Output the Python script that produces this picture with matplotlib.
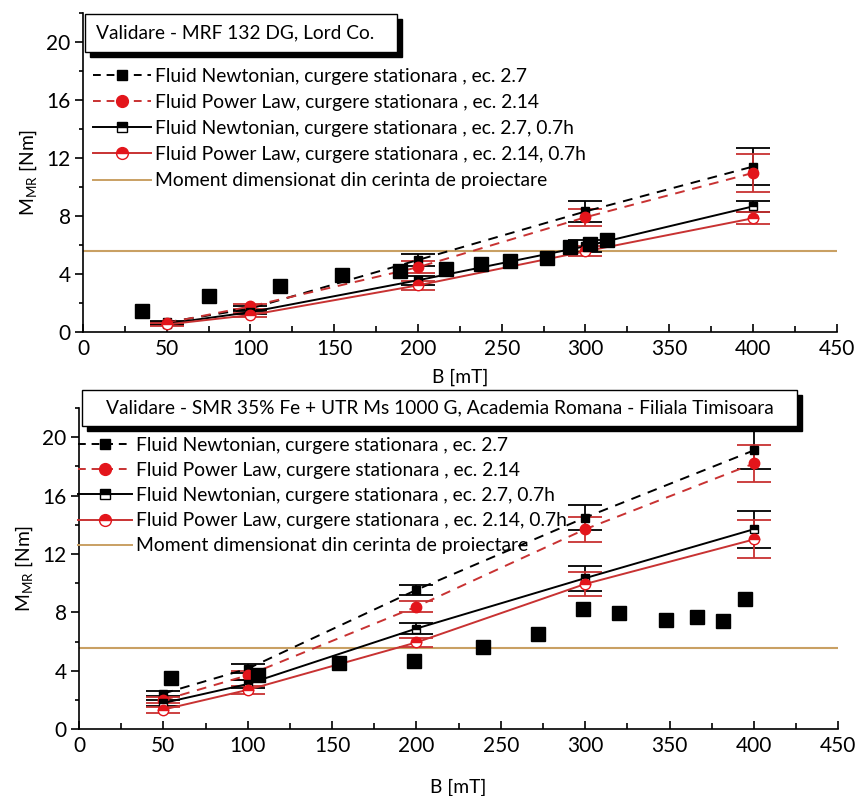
import matplotlib
matplotlib.use('Agg')
import matplotlib.pyplot as plt
from matplotlib.lines import Line2D
from matplotlib.patches import Rectangle
from matplotlib.ticker import MultipleLocator

plt.rcParams['font.family'] = ['Lato', 'DejaVu Sans']
plt.rcParams['mathtext.fontset'] = 'custom'
plt.rcParams['mathtext.rm'] = 'Lato'

# ---------------- data ----------------
B_model = [50, 100, 200, 300, 400]
moment_required = 5.6

labels = [
    "Fluid Newtonian, curgere stationara , ec. 2.7",
    "Fluid Power Law, curgere stationara , ec. 2.14",
    "Fluid Newtonian, curgere stationara , ec. 2.7, 0.7h",
    "Fluid Power Law, curgere stationara , ec. 2.14, 0.7h",
    "Moment dimensionat din cerinta de proiectare",
]

# top panel
top_title = "Validare - MRF 132 DG, Lord Co."
top_newt = [0.65, 1.6, 4.95, 8.3, 11.4]
top_newt_err = [0.1, 0.15, 0.4, 0.7, 1.3]
top_pow = [0.6, 1.75, 4.45, 7.9, 10.96]
top_pow_err = [0.1, 0.15, 0.4, 0.6, 1.3]
top_newt07 = [0.55, 1.35, 3.55, 5.9, 8.65]
top_newt07_err = [0.1, 0.15, 0.3, 0.4, 0.4]
top_pow07 = [0.5, 1.15, 3.2, 5.55, 7.83]
top_pow07_err = [0.1, 0.15, 0.3, 0.35, 0.4]
top_exp_B = [35, 75.5, 117.7, 154.6, 189.5, 217, 237.7, 254.8, 277.2, 291, 303, 313]
top_exp_M = [1.45, 2.49, 3.18, 3.88, 4.22, 4.32, 4.66, 4.91, 5.12, 5.88, 6.05, 6.35]

# bottom panel
bot_title = "Validare - SMR 35% Fe + UTR Ms 1000 G, Academia Romana - Filiala Timisoara"
bot_newt = [2.45, 4.15, 9.55, 14.5, 19.1]
bot_newt_err = [0.2, 0.3, 0.35, 0.85, 1.3]
bot_pow = [2.0, 3.7, 8.4, 13.7, 18.2]
bot_pow_err = [0.2, 0.3, 0.4, 0.85, 1.3]
bot_newt07 = [1.8, 3.1, 6.9, 10.35, 13.7]
bot_newt07_err = [0.2, 0.25, 0.35, 0.85, 1.28]
bot_pow07 = [1.35, 2.7, 5.95, 9.95, 13.0]
bot_pow07_err = [0.2, 0.25, 0.3, 0.85, 1.3]
bot_exp_B = [54.3, 106.3, 154.3, 198.8, 239.3, 272.3, 298.6, 319.8, 348, 366.5, 381.5, 394.7]
bot_exp_M = [3.53, 3.72, 4.52, 4.68, 5.66, 6.53, 8.22, 7.94, 7.49, 7.71, 7.44, 8.95]

# ---------------- style ----------------
BLACK = 'black'
RED = '#e3151b'
RED_LINE = '#c83232'
GOLD = '#c9a063'
FS = 13.9
FS_TITLE = 13.8
FS_TICK = 15
W, H = 856, 796

fig = plt.figure(figsize=(W / 100, H / 100), dpi=100)


def px_box(x0, y0, x1, y1):
    return [x0 / W, 1 - y1 / H, (x1 - x0) / W, (y1 - y0) / H]


def draw_panel(ax, newt, newt_err, pow_, pow_err, newt07, newt07_err, pow07, pow07_err,
               exp_B, exp_M, xlabelpad):
    ax.axhline(moment_required, color=GOLD, lw=1.5, zorder=1)
    common = dict(capsize=12, elinewidth=1.3, capthick=1.3, lw=1.4)
    ax.errorbar(B_model, newt, yerr=newt_err, fmt='s', color=BLACK, ls=(0, (5, 4)),
                ms=6, zorder=3, **common)
    ax.errorbar(B_model, pow_, yerr=pow_err, fmt='o', color=RED_LINE, ls=(0, (5, 4)),
                ms=7.5, mfc=RED, mec=RED, ecolor=RED_LINE, zorder=3, **common)
    ax.errorbar(B_model, newt07, yerr=newt07_err, fmt='s', color=BLACK, ls='-',
                ms=6, fillstyle='top', mfc=BLACK, mfcalt='white', mec=BLACK, zorder=3, **common)
    ax.errorbar(B_model, pow07, yerr=pow07_err, fmt='o', color=RED_LINE, ls='-',
                ms=7.5, fillstyle='top', mfc=RED, mfcalt='white', mec=RED, ecolor=RED_LINE,
                zorder=3, **common)
    ax.plot(exp_B, exp_M, 's', color=BLACK, ms=10, zorder=4)

    ax.set_xlim(0, 450)
    ax.set_ylim(0, 22)
    ax.xaxis.set_major_locator(MultipleLocator(50))
    ax.xaxis.set_minor_locator(MultipleLocator(25))
    ax.yaxis.set_minor_locator(MultipleLocator(2))
    ax.set_yticks([0, 4, 8, 12, 16, 20])
    ax.tick_params(axis='x', which='both', direction='in', labelsize=FS_TICK, width=1.2)
    ax.tick_params(axis='x', which='major', length=6, pad=5)
    ax.tick_params(axis='x', which='minor', length=4)
    ax.tick_params(axis='y', which='both', direction='out', labelsize=FS_TICK, width=1.2)
    ax.tick_params(axis='y', which='major', length=6, pad=3)
    ax.tick_params(axis='y', which='minor', length=3)
    for s in ['top', 'right']:
        ax.spines[s].set_visible(False)
    for s in ['left', 'bottom']:
        ax.spines[s].set_linewidth(1.2)
    ax.set_xlabel('B [mT]', fontsize=FS, labelpad=xlabelpad)
    ax.set_ylabel(r'M$_{\mathregular{MR}}$ [Nm]', fontsize=FS, labelpad=5)


def legend_handles():
    return [
        Line2D([], [], color=BLACK, ls=(0, (4, 3)), lw=1.4, marker='s', ms=7),
        Line2D([], [], color=RED_LINE, ls=(0, (4, 3)), lw=1.4, marker='o', ms=8.5,
               mfc=RED, mec=RED),
        Line2D([], [], color=BLACK, ls='-', lw=1.4, marker='s', ms=7, fillstyle='top',
               mfc=BLACK, markerfacecoloralt='white', mec=BLACK),
        Line2D([], [], color=RED_LINE, ls='-', lw=1.4, marker='o', ms=8.5, fillstyle='top',
               mfc=RED, markerfacecoloralt='white', mec=RED),
        Line2D([], [], color=GOLD, ls='-', lw=1.4),
    ]


def title_box(x0, y0, x1, y1, text, text_x):
    off = 5
    fig.add_artist(Rectangle(((x0 + off) / W, 1 - (y1 + off) / H), (x1 - x0) / W, (y1 - y0) / H,
                             transform=fig.transFigure, facecolor='black', edgecolor='black',
                             zorder=10))
    fig.add_artist(Rectangle((x0 / W, 1 - y1 / H), (x1 - x0) / W, (y1 - y0) / H,
                             transform=fig.transFigure, facecolor='white', edgecolor='black',
                             lw=1.0, zorder=11))
    fig.text(text_x / W, 1 - ((y0 + y1) / 2) / H, text, fontsize=FS_TITLE, ha='left',
             va='center', zorder=12)


# top panel
ax1 = fig.add_axes(px_box(83, 13, 836.7, 331.7))
draw_panel(ax1, top_newt, top_newt_err, top_pow, top_pow_err, top_newt07, top_newt07_err,
           top_pow07, top_pow07_err, top_exp_B, top_exp_M, xlabelpad=7)
fig.legend(legend_handles(), labels, loc='upper left', bbox_to_anchor=(93 / W, 1 - 68 / H),
           frameon=False, fontsize=FS, handlelength=3.0, handletextpad=0.2,
           labelspacing=0.47, borderpad=0, borderaxespad=0)
title_box(85, 14, 397, 52, top_title, 96)

# bottom panel
ax2 = fig.add_axes(px_box(79, 408, 838.3, 729.3))
draw_panel(ax2, bot_newt, bot_newt_err, bot_pow, bot_pow_err, bot_newt07, bot_newt07_err,
           bot_pow07, bot_pow07_err, bot_exp_B, bot_exp_M, xlabelpad=16)
fig.legend(legend_handles(), labels, loc='upper left', bbox_to_anchor=(78 / W, 1 - 437 / H),
           frameon=False, fontsize=FS, handlelength=2.8, handletextpad=0.2,
           labelspacing=0.42, borderpad=0, borderaxespad=0)
title_box(82, 390, 797, 426, bot_title, 106)

fig.savefig('out.png', dpi=100, facecolor='white')
